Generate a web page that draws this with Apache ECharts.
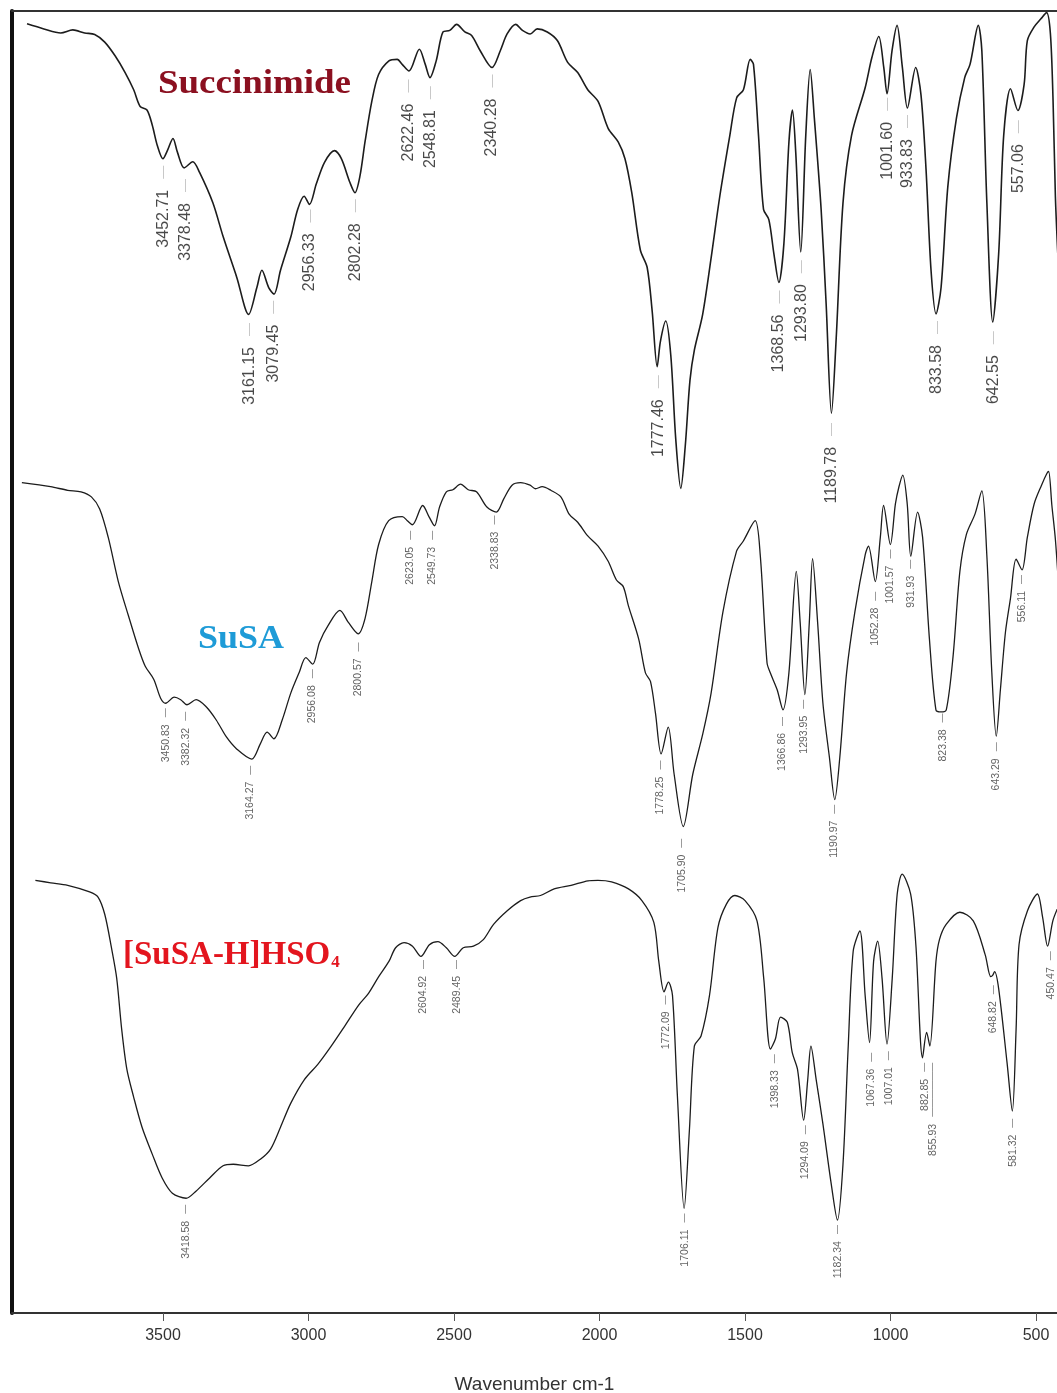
<!DOCTYPE html>
<html><head><meta charset="utf-8">
<script src="https://cdn.jsdelivr.net/npm/echarts@6/dist/echarts.min.js"></script>
<style>html,body{margin:0;padding:0;background:#fff}#c{width:1057px;height:1393px}</style>
</head><body><div id="c"></div>
<script>
// Axis tick labels (wavenumber, cm-1)
const tickValues = [3500, 3000, 2500, 2000, 1500, 1000, 500];

// Spectra: [wavenumber cm-1, transmittance (a.u.)]
const succinimide = [
[3914,95.3],[3857,94.3],[3800,93.5],[3759,94.1],[3719,93.5],[3685,93.2],[3651,91.7],[3616,89.0],[3582,85.7],[3553,82.3],[3531,79.0],[3508,78.3],[3490,75.3],[3473,71.3],[3454,68.7],[3439,70.3],[3420,72.7],[3405,70.0],[3382,66.9],[3353,68.1],[3330,66.0],[3285,60.0],[3250,53.3],[3204,45.3],[3164,38.0],[3136,43.3],[3119,46.7],[3096,43.3],[3078,42.0],[3056,46.7],[3021,53.3],[2998,58.7],[2976,61.3],[2958,59.7],[2935,63.7],[2907,68.0],[2873,70.3],[2850,68.7],[2821,64.0],[2804,62.0],[2787,65.3],[2770,72.0],[2747,80.0],[2724,85.3],[2689,88.0],[2661,88.3],[2644,87.3],[2621,86.0],[2586,90.3],[2566,87.3],[2550,84.7],[2529,88.0],[2506,93.7],[2483,94.0],[2460,95.2],[2432,93.7],[2409,93.0],[2380,90.0],[2340,86.7],[2312,90.0],[2289,93.3],[2260,95.2],[2237,94.0],[2211,93.3],
[2187,94.3],[2153,93.7],[2119,92.0],[2084,87.7],[2050,85.7],[2016,82.3],[1981,80.0],[1947,74.7],[1913,72.0],[1890,68.7],[1867,62.0],[1838,50.7],[1815,47.3],[1798,38.7],[1781,27.7],[1770,32.7],[1752,36.7],[1735,30.0],[1718,13.3],[1701,3.7],[1686,12.0],[1670,25.0],[1655,31.0],[1627,38.0],[1598,49.3],[1569,61.3],[1535,73.3],[1512,80.7],[1489,82.3],[1466,88.3],[1455,87.3],[1438,73.3],[1421,58.7],[1403,56.7],[1386,50.0],[1369,44.3],[1352,52.0],[1335,72.0],[1323,78.3],[1312,70.0],[1295,50.3],[1278,73.3],[1263,86.3],[1249,76.7],[1226,58.7],[1209,40.0],[1191,18.5],[1175,33.3],[1152,60.0],[1123,73.3],[1077,82.7],[1054,88.7],[1031,92.8],[1014,86.7],[1003,81.5],[986,90.0],[969,95.0],[951,86.7],[934,78.7],[906,86.7],[888,81.3],[871,66.7],[854,46.7],[837,38.1],[820,43.3],[797,63.3],[768,76.7],[740,84.7],[722,87.3],[694,95.0],[682,90.0],[665,60.0],[645,36.5],[625,50.0],[608,73.3],[585,82.5],[560,78.2],[539,83.3],[528,92.0],[505,94.7],[482,96.3],[463,97.5],[450,93.4],[441,80.3],[433,61.2],[425,50.0]
];
const susa = [
[3937,97.5],[3840,96.7],[3782,96.0],[3737,95.7],[3702,94.7],[3674,92.3],[3645,86.7],[3611,78.0],[3577,71.3],[3542,64.7],[3520,61.3],[3491,58.7],[3468,55.0],[3451,54.0],[3422,55.2],[3400,54.7],[3379,53.7],[3348,54.7],[3314,53.3],[3280,50.7],[3245,47.3],[3211,45.0],[3160,43.0],[3131,46.0],[3108,48.3],[3085,47.0],[3057,50.7],[3028,56.0],[3000,60.0],[2977,63.0],[2954,61.7],[2931,66.0],[2902,69.3],[2862,72.3],[2834,70.0],[2800,67.7],[2777,70.7],[2754,78.0],[2731,85.3],[2697,90.0],[2651,90.8],[2634,90.0],[2617,89.2],[2582,93.0],[2560,90.7],[2542,89.0],[2525,92.7],[2502,95.7],[2480,96.1],[2454,97.2],[2428,96.1],[2400,95.7],[2365,92.7],[2333,91.7],[2308,94.3],[2280,97.0],[2251,97.5],[2219,97.0],
[2201,96.3],[2178,96.7],[2149,96.0],[2115,94.7],[2087,91.3],[2058,89.7],[2024,87.0],[1989,85.0],[1955,82.0],[1927,78.3],[1904,77.0],[1887,73.3],[1852,66.7],[1829,60.0],[1812,58.3],[1795,52.0],[1776,44.0],[1752,49.3],[1732,40.0],[1701,29.7],[1669,40.0],[1635,48.0],[1607,56.0],[1567,72.0],[1521,84.0],[1498,86.0],[1458,90.0],[1441,83.3],[1418,62.0],[1407,60.0],[1384,56.7],[1364,52.7],[1344,60.0],[1319,80.0],[1306,70.0],[1290,55.7],[1275,70.0],[1264,82.5],[1247,70.0],[1229,54.0],[1207,43.3],[1189,35.0],[1172,43.3],[1149,60.0],[1121,72.0],[1086,83.3],[1075,85.0],[1052,78.0],[1035,86.7],[1024,93.0],[1001,85.3],[984,93.3],[972,96.7],[959,99.0],[944,93.3],[932,83.0],[909,91.7],[892,86.7],[869,66.7],[847,52.7],[830,52.3],[812,52.7],[789,63.3],[766,80.0],[744,87.3],[715,91.3],[692,95.9],[675,83.3],[658,60.0],[643,47.5],[629,56.7],[612,68.0],[595,74.7],[576,82.4],[556,80.3],[538,86.7],[515,93.3],[490,97.0],[472,99.3],[466,99.7],[455,93.0],[443,86.2],[430,75.0]
];
const susaH = [
[3935,96.0],[3882,95.5],[3824,95.0],[3749,93.7],[3720,92.7],[3697,89.3],[3674,82.7],[3656,76.7],[3639,66.7],[3621,58.7],[3598,53.3],[3569,47.3],[3534,42.0],[3500,37.3],[3465,34.3],[3418,33.3],[3384,34.7],[3337,37.3],[3291,39.7],[3256,40.0],[3204,39.7],[3163,41.0],[3128,43.0],[3094,47.3],[3059,52.0],[3012,56.7],[2966,59.7],[2920,63.3],[2873,67.3],[2827,71.3],[2792,73.7],[2757,77.0],[2722,80.0],[2699,82.7],[2670,83.7],[2641,83.0],[2612,81.0],[2583,83.3],[2554,83.9],[2525,82.7],[2496,81.0],[2467,82.7],[2432,83.0],[2398,84.3],[2363,87.3],[2316,90.0],[2270,92.0],[2238,92.7],
[2202,93.0],[2155,94.3],[2097,95.0],[2039,95.9],[2005,96.0],[1958,95.7],[1900,94.3],[1854,92.0],[1813,87.7],[1796,80.0],[1778,74.0],[1763,75.9],[1749,73.3],[1732,53.3],[1709,31.3],[1691,46.7],[1674,63.3],[1651,65.3],[1622,73.3],[1593,86.7],[1564,91.3],[1535,93.0],[1500,92.0],[1459,88.0],[1436,76.7],[1413,62.7],[1396,64.7],[1378,69.0],[1355,68.0],[1338,62.0],[1320,58.7],[1299,48.7],[1285,56.7],[1274,63.3],[1256,56.7],[1233,48.0],[1204,36.0],[1183,29.0],[1164,40.0],[1146,63.3],[1129,82.0],[1106,86.0],[1088,73.3],[1073,64.0],[1059,80.0],[1045,84.0],[1030,76.7],[1013,63.7],[995,76.7],[978,93.3],[961,97.2],[932,93.3],[914,83.3],[891,61.0],[877,66.0],[866,63.3],[845,80.0],[833,84.3],[810,87.3],[763,89.7],[717,88.0],[676,81.3],[657,77.0],[650,77.3],[644,78.0],[630,74.7],[601,60.0],[583,50.5],[570,66.7],[560,83.3],[531,90.0],[497,93.3],[479,88.7],[462,83.0],[444,88.0],[429,90.3]
];

// Peak annotations: wavenumbers and level of the label's upper end
const succPeaks = [3452.71,3378.48,3161.15,3079.45,2956.33,2802.28,2622.46,2548.81,2340.28,1777.46,1368.56,1293.80,1189.78,1001.60,933.83,833.58,642.55,557.06];
const succPeakLevels = [67.3,64.7,36.3,40.7,58.7,60.7,84.3,83.0,85.3,26.0,42.7,48.7,16.6,80.7,77.3,36.7,34.7,76.3];
const susaPeaks = [3450.83,3382.32,3164.27,2956.08,2800.57,2623.05,2549.73,2338.83,1778.25,1705.90,1366.86,1293.95,1190.97,1052.28,1001.57,931.93,823.38,643.29,556.11];
const susaPeakLevels = [53.0,52.3,41.7,60.7,66.0,88.0,88.0,91.0,42.7,27.3,51.3,54.7,34.0,76.0,84.3,82.3,52.0,46.3,79.3];
const susaHPeaks = [3418.58,2604.92,2489.45,1772.09,1706.11,1398.33,1294.09,1182.34,1067.36,1007.01,882.85,855.93,648.82,581.32,450.47];
const susaHPeakLevels = [32.0,80.3,80.3,73.3,30.3,61.7,47.7,28.0,62.0,62.3,60.0,60.0,75.3,49.0,82.0];
const susaHDashLen = [1,1,1,1,1,1,1,1,1,1,1,6,1,1,1];

const chart = echarts.init(document.getElementById('c'), null, {renderer: 'canvas'});

function spectrum(name, data, idx, width) {
  return {
    type: 'line', name: name, data: data, xAxisIndex: idx + 2, yAxisIndex: idx,
    symbol: 'none', showSymbol: false, smooth: 0.3, clip: true, silent: true,
    lineStyle: {color: '#1c1c1c', width: width}, z: 3
  };
}
function peakLabels(peaks, levels, idx, big, dashLen) {
  return {
    type: 'scatter', xAxisIndex: idx + 2, yAxisIndex: idx, symbolSize: 1, silent: true,
    itemStyle: {color: 'rgba(0,0,0,0)'},
    data: peaks.map((p, i) => [p, levels[i], dashLen ? dashLen[i] : 1]),
    label: {
      show: true, position: 'inside', rotate: 90, align: 'right', verticalAlign: 'middle',
      formatter: (pr) => '{t|' + pr.value[0].toFixed(2) + '}{g|}{d|' + '—'.repeat(pr.value[2]) + '}',
      rich: big ? {
        t: {fontSize: 16, fontFamily: '"Liberation Sans", Arial, sans-serif', color: '#1a1a1a'},
        g: {width: 11},
        d: {fontSize: 13, fontFamily: '"Liberation Sans", Arial, sans-serif', color: '#b0b0b0'}
      } : {
        t: {fontSize: 10.5, fontFamily: '"Liberation Sans", Arial, sans-serif', color: '#3a3a3a'},
        g: {width: 7},
        d: {fontSize: 9, fontFamily: '"Liberation Sans", Arial, sans-serif', color: '#3a3a3a'}
      }
    }
  };
}

const hidden = {show: false, type: 'value', inverse: true};
chart.setOption({
  animation: false,
  backgroundColor: '#fff',
  grid: {left: 12, right: 0, top: 11, bottom: 80, containLabel: false, outerBoundsMode: 'none'},
  xAxis: [
    {type: 'value', position: 'bottom', inverse: true, min: 427.9, max: 4018.9,
     name: 'Wavenumber cm-1', nameLocation: 'middle', nameGap: 62,
     nameTextStyle: {fontSize: 19, color: '#333', fontFamily: '"Liberation Sans", Arial, sans-serif'},
     axisLine: {show: true, onZero: false, lineStyle: {color: '#333', width: 2}},
     axisTick: {show: true, customValues: tickValues, length: 8, lineStyle: {color: '#555', width: 1}},
     axisLabel: {show: true, customValues: tickValues, fontSize: 16, color: '#333', margin: 15,
                 formatter: (v) => String(v),
                 fontFamily: '"Liberation Sans", Arial, sans-serif'},
     splitLine: {show: false}},
    {type: 'value', position: 'top', inverse: true, min: 427.9, max: 4018.9,
     axisLine: {show: true, onZero: false, lineStyle: {color: '#333', width: 2}},
     axisTick: {show: false}, axisLabel: {show: false}, splitLine: {show: false}},
    Object.assign({min: 427.6, max: 3964.9}, hidden),
    Object.assign({min: 437.7, max: 3970.4}, hidden),
    Object.assign({min: 429.7, max: 4015.2}, hidden)
  ],
  yAxis: [
    {type: 'value', position: 'left', min: -158.92, max: 97.83,
     axisLine: {show: true, onZero: false, lineStyle: {color: '#111', width: 4}},
     axisTick: {show: false}, axisLabel: {show: false}, splitLine: {show: false}},
    {show: false, type: 'value', position: 'left', min: -66.24, max: 190.51},
    {show: false, type: 'value', position: 'left', min: 10.67, max: 267.42}
  ],
  graphic: [
    {type: 'text', left: 158, top: 68, scaleX: 1.12, z: 10,
     style: {text: 'Succinimide', font: 'bold 33px "Liberation Serif", "Times New Roman", serif', fill: '#8B1020'}},
    {type: 'text', left: 198, top: 623, scaleX: 1.09, z: 10,
     style: {text: 'SuSA', font: 'bold 33px "Liberation Serif", "Times New Roman", serif', fill: '#1E9BD7'}},
    {type: 'text', left: 123, top: 939, scaleX: 1.0, z: 10,
     style: {text: '[SuSA-H]HSO{s|4}', font: 'bold 33px "Liberation Serif", "Times New Roman", serif', fill: '#E3151E',
             rich: {s: {fontSize: 17, fontWeight: 'bold', fontFamily: '"Liberation Serif", serif', fill: '#E3151E', padding: [14, 0, 0, 1]}}}}
  ],
  series: [
    spectrum('Succinimide', succinimide, 0, 1.6),
    spectrum('SuSA', susa, 1, 1.3),
    spectrum('[SuSA-H]HSO4', susaH, 2, 1.3),
    peakLabels(succPeaks, succPeakLevels, 0, true),
    peakLabels(susaPeaks, susaPeakLevels, 1, false),
    peakLabels(susaHPeaks, susaHPeakLevels, 2, false, susaHDashLen)
  ]
});
</script>
</body></html>
